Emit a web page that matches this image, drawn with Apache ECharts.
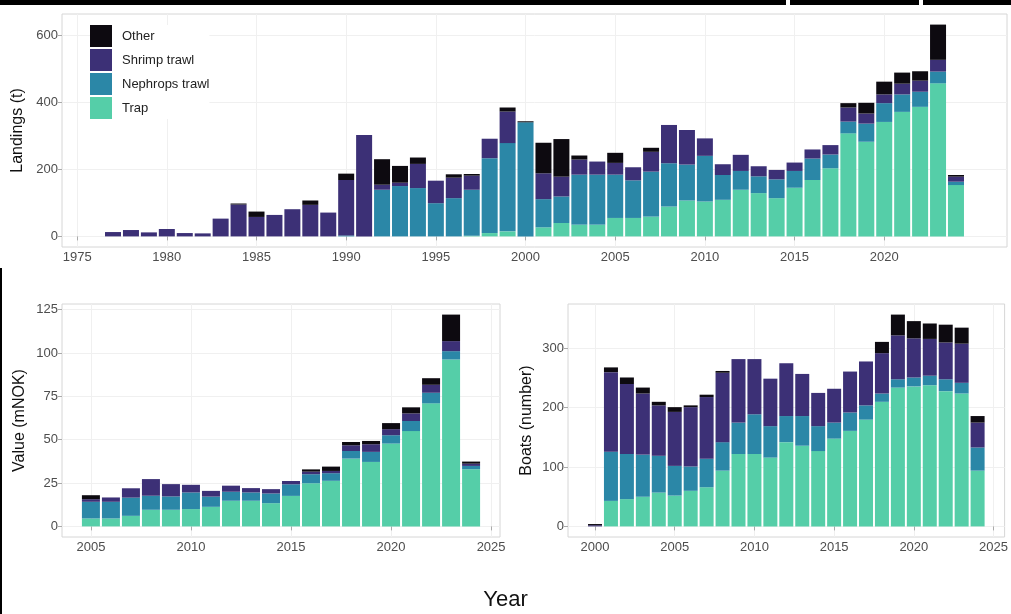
<!DOCTYPE html>
<html><head><meta charset="utf-8">
<script src="https://cdn.jsdelivr.net/npm/echarts@6/dist/echarts.min.js"></script>
<style>html,body{margin:0;padding:0;background:#fff}#c{width:1011px;height:614px}</style>
</head><body><div id="c"></div>
<script>
// ---------- Landings (t), 1977-2024 ----------
const landYears = [1977,1978,1979,1980,1981,1982,1983,1984,1985,1986,1987,1988,1989,1990,1991,1992,1993,1994,1995,1996,1997,1998,1999,2000,2001,2002,2003,2004,2005,2006,2007,2008,2009,2010,2011,2012,2013,2014,2015,2016,2017,2018,2019,2020,2021,2022,2023,2024];
const landTrap     = [0,0,0,0,0,0,0,0,0,0,0,0,0,0,0,0,0,0,0,0,2,10,15,0,27,40,35,35,55,55,59,89,107,104,109,139,129,114,145,168,203,307,282,341,371,386,456,153];
const landNephrops = [0,0,0,0,0,0,0,0,0,0,0,0,0,3,0,139,150,144,99,114,137,223,263,340,84,79,149,149,129,112,134,129,107,136,74,56,50,56,50,64,41,35,54,56,52,45,35,10];
const landShrimp   = [13,19,12,22,10,9,53,95,58,64,81,94,71,165,302,15,10,72,67,61,42,58,94,0,77,59,45,39,35,39,59,114,103,52,32,48,30,28,25,27,28,42,30,26,32,33,35,15];
const landOther    = [0,0,0,0,0,0,0,3,16,0,0,13,0,19,0,76,50,19,0,10,5,0,12,3,91,112,12,0,30,0,12,0,0,0,0,0,0,0,0,0,0,13,32,38,33,28,105,5];
const landXTicks = [1975,1980,1985,1990,1995,2000,2005,2010,2015,2020];
const landYTicks = [0,200,400,600];

// ---------- Value (mNOK), 2005-2024 ----------
const valYears = [2005,2006,2007,2008,2009,2010,2011,2012,2013,2014,2015,2016,2017,2018,2019,2020,2021,2022,2023,2024];
const valTrap     = [4.6,4.6,6.1,9.6,9.6,10.0,11.3,14.8,14.8,13.4,17.6,24.9,26.3,39.1,37.2,47.8,55.0,71.0,96.3,33.0];
const valNephrops = [9.6,9.6,10.5,8.1,7.7,9.6,5.9,5.2,4.8,5.6,6.7,5.2,4.4,4.4,5.8,4.8,5.8,6.1,4.8,1.9];
const valShrimp   = [1.5,2.5,5.4,9.6,7.1,4.4,3.3,3.5,2.5,2.5,1.9,1.5,1.3,3.3,4.4,3.5,4.4,4.6,5.8,1.3];
const valOther    = [2.3,0,0,0,0,0,0,0,0,0,0,1.3,2.5,1.9,1.9,3.5,3.5,3.8,15.3,1.2];
const valXTicks = [2005,2010,2015,2020,2025];
const valYTicks = [0,25,50,75,100,125];

// ---------- Boats (number), 2000-2024 ----------
const boatYears = [2000,2001,2002,2003,2004,2005,2006,2007,2008,2009,2010,2011,2012,2013,2014,2015,2016,2017,2018,2019,2020,2021,2022,2023,2024];
const boatTrap     = [0,43,46,50,57,52,60,66,94,122,122,116,142,136,127,148,161,180,210,234,236,238,228,224,94];
const boatNephrops = [0,83,76,71,62,50,41,48,48,53,67,53,44,50,42,27,31,24,14,14,15,16,20,18,39];
const boatShrimp   = [2,134,118,103,85,91,100,104,117,107,93,80,89,71,56,57,69,74,68,74,66,62,62,66,42];
const boatOther    = [2,8,11,10,6,8,3,4,3,0,0,0,0,0,0,0,0,0,19,35,29,26,30,27,11];
const boatXTicks = [2000,2005,2010,2015,2020,2025];
const boatYTicks = [0,100,200,300];

const gearNames = ['Other','Shrimp trawl','Nephrops trawl','Trap'];
const gearColors = {'Other':'#0d0a10','Shrimp trawl':'#3c3076','Nephrops trawl':'#2b87a7','Trap':'#55cea8'};

const FONT = '"Liberation Sans", Arial, sans-serif';

function pad(minV, maxV){ const d=(maxV-minV)*0.05; return [minV-d, maxV+d]; }
function stackTotals(arrs){ return arrs[0].map((_,i)=>arrs.reduce((s,a)=>s+a[i],0)); }

function xAxisDef(gi, years, ticks){
  const r = pad(years[0]-0.45, years[years.length-1]+0.45);
  return {
    type:'value', gridIndex:gi, min:r[0], max:r[1],
    axisLine:{show:false},
    axisTick:{show:true, length:4, lineStyle:{color:'#aaaaaa'}, customValues:ticks},
    axisLabel:{customValues:ticks, color:'#4d4d4d', fontSize:13, fontFamily:FONT, margin:4, formatter:v=>String(v)},
    splitLine:{show:true, lineStyle:{color:'#f0f0f0', width:1}},
  };
}
function yAxisDef(gi, totals, ticks, name, gap){
  const r = pad(0, Math.max(...totals));
  return {
    type:'value', gridIndex:gi, min:r[0], max:r[1],
    name:name, nameLocation:'middle', nameGap:gap,
    nameTextStyle:{color:'#111', fontSize:16, fontFamily:FONT},
    axisLine:{show:false},
    axisTick:{show:true, length:4, lineStyle:{color:'#aaaaaa'}, customValues:ticks},
    axisLabel:{customValues:ticks, color:'#4d4d4d', fontSize:13, fontFamily:FONT, margin:4, formatter:v=>String(v)},
    splitLine:{show:true, lineStyle:{color:'#f0f0f0', width:1}},
  };
}

function makeSeries(idx, years, data, width){
  const order = ['Trap','Nephrops trawl','Shrimp trawl','Other']; // bottom first
  return order.map(n => ({
    name:n, type:'bar', stack:'s'+idx, xAxisIndex:idx, yAxisIndex:idx,
    barWidth:width, itemStyle:{color:gearColors[n]},
    // value in dim 0 so that it is the stacked dimension; year in dim 1
    encode:{x:1, y:0},
    data: years.map((y,i)=>[data[n][i], y]),
    emphasis:{disabled:true}
  }));
}

const landData = {'Trap':landTrap,'Nephrops trawl':landNephrops,'Shrimp trawl':landShrimp,'Other':landOther};
const valData  = {'Trap':valTrap,'Nephrops trawl':valNephrops,'Shrimp trawl':valShrimp,'Other':valOther};
const boatData = {'Trap':boatTrap,'Nephrops trawl':boatNephrops,'Shrimp trawl':boatShrimp,'Other':boatOther};

const option = {
  animation:false,
  backgroundColor:'#ffffff',
  textStyle:{fontFamily:FONT},
  grid:[
    {left:62, right:4, top:14, height:233, show:true, borderColor:'#d6d6d6', borderWidth:1},
    {left:62, width:438, top:304, height:233, show:true, borderColor:'#d6d6d6', borderWidth:1},
    {left:568, width:439, top:304, height:233, show:true, borderColor:'#d6d6d6', borderWidth:1}
  ],
  xAxis:[
    xAxisDef(0, landYears, landXTicks),
    xAxisDef(1, valYears, valXTicks),
    xAxisDef(2, boatYears, boatXTicks)
  ],
  yAxis:[
    yAxisDef(0, stackTotals([landTrap,landNephrops,landShrimp,landOther]), landYTicks, 'Landings (t)', 34),
    yAxisDef(1, stackTotals([valTrap,valNephrops,valShrimp,valOther]), valYTicks, 'Value (mNOK)', 34),
    yAxisDef(2, stackTotals([boatTrap,boatNephrops,boatShrimp,boatOther]), boatYTicks, 'Boats (number)', 33)
  ],
  legend:{
    data:gearNames, orient:'vertical', left:90, top:25,
    itemWidth:22, itemHeight:22, itemGap:2, icon:'rect',
    backgroundColor:'#ffffff', padding:0,
    textStyle:{color:'#222', fontSize:13, fontFamily:FONT, padding:[0,0,0,5]},
    selectedMode:false
  },
  series:[
    ...makeSeries(0, landYears, landData, 16),
    ...makeSeries(1, valYears, valData, 18),
    ...makeSeries(2, boatYears, boatData, 14)
  ],
  graphic:[
    {type:'text', left:'center', top:589, style:{text:'Year', fontSize:22, fontFamily:FONT, fill:'#111'}},
    {type:'rect', shape:{x:0,y:0,width:786,height:5}, style:{fill:'#000'}},
    {type:'rect', shape:{x:790,y:0,width:129,height:5}, style:{fill:'#000'}},
    {type:'rect', shape:{x:923,y:0,width:88,height:5}, style:{fill:'#000'}},
    {type:'rect', shape:{x:0,y:268,width:2,height:346}, style:{fill:'#000'}}
  ]
};
const chart = echarts.init(document.getElementById('c'), null, {renderer:'canvas'});
chart.setOption(option);
</script></body></html>
